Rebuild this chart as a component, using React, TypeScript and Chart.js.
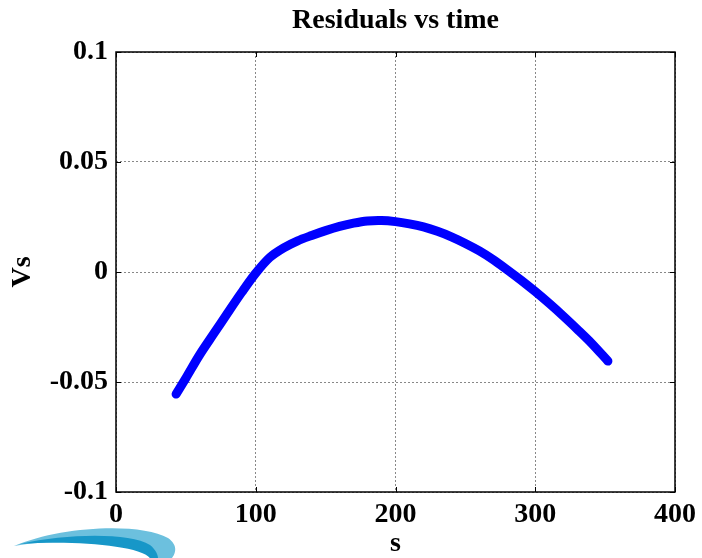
import React, { useEffect, useRef } from "react";
import { Chart, registerables } from "chart.js";

Chart.register(...registerables);

const titleText = "Residuals vs time";
const xAxisTitle = "s";
const yAxisTitle = "Vs";

const sValues = [43, 50, 60, 70, 80, 90, 100, 110, 120, 130, 140, 150, 160, 170, 180, 190, 200, 210, 220, 230, 240, 250, 260, 270, 280, 290, 300, 310, 320, 330, 340, 352];
const vsValues = [-0.0555, -0.0482, -0.0375, -0.028, -0.0185, -0.0092, -0.0005, 0.0066, 0.0110, 0.0142, 0.0166, 0.0188, 0.0207, 0.0222, 0.0232, 0.0234, 0.0229, 0.0219, 0.0205, 0.0185, 0.0160, 0.0130, 0.0096, 0.0056, 0.0010, -0.0038, -0.0089, -0.0143, -0.0200, -0.0260, -0.0322, -0.0405];

const xTickValues = [0, 100, 200, 300, 400];
const xTickLabels = ["0", "100", "200", "300", "400"];
const yTickValues = [-0.1, -0.05, 0, 0.05, 0.1];
const yTickLabels = ["-0.1", "-0.05", "0", "0.05", "0.1"];

const FONT = '"Liberation Serif", "Times New Roman", serif';

const framePlugin = {
  id: "frame",
  afterDraw(chart: any) {
    const { ctx, chartArea } = chart;
    const { left, right, top, bottom } = chartArea;
    const xs = chart.scales.x;
    const ys = chart.scales.y;
    ctx.save();
    ctx.strokeStyle = "#000";
    ctx.lineWidth = 1.5;
    ctx.strokeRect(left, top, right - left, bottom - top);
    ctx.lineWidth = 1;
    ctx.beginPath();
    const tl = 5;
    xTickValues.forEach((v) => {
      const px = Math.round(xs.getPixelForValue(v)) + 0.5;
      ctx.moveTo(px, bottom);
      ctx.lineTo(px, bottom - tl);
      ctx.moveTo(px, top);
      ctx.lineTo(px, top + tl);
    });
    yTickValues.forEach((v) => {
      const py = Math.round(ys.getPixelForValue(v)) + 0.5;
      ctx.moveTo(left, py);
      ctx.lineTo(left + tl, py);
      ctx.moveTo(right, py);
      ctx.lineTo(right - tl, py);
    });
    ctx.stroke();

    // decorative logo swoosh (bottom-left)
    ctx.fillStyle = "#6cc0de";
    ctx.beginPath();
    ctx.moveTo(14, 546);
    ctx.bezierCurveTo(60, 526, 140, 522, 168, 538);
    ctx.bezierCurveTo(178, 545, 176, 553, 172, 558);
    ctx.lineTo(150, 558);
    ctx.bezierCurveTo(140, 540, 60, 538, 14, 546);
    ctx.closePath();
    ctx.fill();
    ctx.fillStyle = "#1797c8";
    ctx.beginPath();
    ctx.moveTo(20, 544);
    ctx.bezierCurveTo(70, 533, 130, 533, 150, 545);
    ctx.bezierCurveTo(156, 550, 158, 555, 158, 558);
    ctx.lineTo(150, 558);
    ctx.bezierCurveTo(140, 545, 70, 540, 20, 544);
    ctx.closePath();
    ctx.fill();
    ctx.restore();
  },
};

export default function App() {
  const canvasRef = useRef<HTMLCanvasElement | null>(null);

  useEffect(() => {
    if (!canvasRef.current) return;
    const chart = new Chart(canvasRef.current, {
      type: "scatter",
      data: {
        datasets: [
          {
            data: sValues.map((s, i) => ({ x: s, y: vsValues[i] })),
            showLine: true,
            borderColor: "#0000ff",
            backgroundColor: "#0000ff",
            borderWidth: 9,
            borderCapStyle: "round",
            borderJoinStyle: "round",
            tension: 0.3,
            pointRadius: 0,
          } as any,
        ],
      },
      options: {
        animation: false,
        responsive: false,
        devicePixelRatio: 1,
        layout: { padding: { left: 0, right: 24, top: 0, bottom: 0 } },
        plugins: {
          legend: { display: false },
          tooltip: { enabled: false },
          title: {
            display: true,
            text: titleText,
            fullSize: false,
            color: "#000",
            font: { family: FONT, size: 28, weight: "bold", lineHeight: 1.2 },
            padding: { top: 4, bottom: 14.4 },
          },
        },
        scales: {
          x: {
            type: "linear",
            min: 0,
            max: 400,
            afterBuildTicks: (scale: any) => {
              scale.ticks = xTickValues.map((v) => ({ value: v }));
            },
            afterFit: (scale: any) => {
              scale.height = 66;
            },
            ticks: {
              color: "#000",
              padding: 6,
              maxRotation: 0,
              font: { family: FONT, size: 28, weight: "bold", lineHeight: 1.2 },
              callback: (v: any) => {
                const i = xTickValues.indexOf(Number(v));
                return i >= 0 ? xTickLabels[i] : "";
              },
            },
            grid: { color: "#888", lineWidth: 1, drawTicks: false },
            border: { display: false, dash: [2, 2] },
            title: {
              display: true,
              text: xAxisTitle,
              color: "#000",
              font: { family: FONT, size: 28, weight: "bold", lineHeight: 1.0 },
              padding: { top: 0, bottom: 0 },
            },
          },
          y: {
            type: "linear",
            min: -0.1,
            max: 0.1,
            afterBuildTicks: (scale: any) => {
              scale.ticks = yTickValues.map((v) => ({ value: v }));
            },
            afterFit: (scale: any) => {
              scale.width = 116;
            },
            ticks: {
              color: "#000",
              padding: 8,
              font: { family: FONT, size: 28, weight: "bold", lineHeight: 1.2 },
              callback: (v: any) => {
                const i = yTickValues.findIndex((t) => Math.abs(t - Number(v)) < 1e-9);
                return i >= 0 ? yTickLabels[i] : "";
              },
            },
            grid: { color: "#888", lineWidth: 1, drawTicks: false },
            border: { display: false, dash: [2, 2] },
            title: {
              display: true,
              text: yAxisTitle,
              color: "#000",
              font: { family: FONT, size: 28, weight: "bold", lineHeight: 1.2 },
              padding: { top: 6, bottom: 0 },
            },
          },
        },
      },
      plugins: [framePlugin],
    });
    return () => chart.destroy();
  }, []);

  return (
    <div style={{ position: "absolute", left: 0, top: 0, width: 702, height: 558, background: "#fff" }}>
      <canvas ref={canvasRef} width={702} height={558} style={{ width: 702, height: 558, display: "block" }} />
    </div>
  );
}
